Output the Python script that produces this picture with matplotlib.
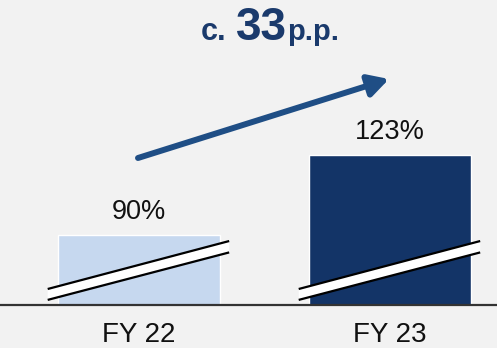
import matplotlib.pyplot as plt
import numpy as np
from matplotlib.patches import Polygon

plt.rcParams['font.family'] = ['Liberation Sans', 'DejaVu Sans']

# data
years = ['FY 22', 'FY 23']
ratios = [90, 123]
labels = ['90%', '123%']
bar_colors = ['#C6D8EF', '#133467']
change = '33'

bg = '#F2F2F2'
fig = plt.figure(figsize=(4.97, 3.48), dpi=100, facecolor=bg)
ax = fig.add_axes([0, 0.1236, 1, 0.8764], facecolor=bg)

x = np.arange(len(years))
ax.bar(x, ratios, width=0.645, color=bar_colors, edgecolor='white', linewidth=1)

# axis starts above zero, so mark the break on each bar
for xi in x:
    xl, xr = xi - 0.364, xi + 0.359
    top = [(xl, 67.7), (xr, 87.5)]
    bot = [(xl, 63.2), (xr, 82.8)]
    ax.add_patch(Polygon(top + bot[::-1], closed=True, facecolor='white',
                         edgecolor='none', zorder=3))
    ax.plot(*zip(*top), color='black', lw=1.6, zorder=4, solid_capstyle='butt')
    ax.plot(*zip(*bot), color='black', lw=1.6, zorder=4, solid_capstyle='butt')

for xi, v, t in zip(x, ratios, labels):
    ax.annotate(t, (xi, v), xytext=(0, 7), textcoords='offset points',
                ha='center', va='bottom', fontsize=19.5, color='#111111')

ax.set_xlim(-0.554, 1.426)
ax.set_ylim(61.1, 187)
ax.set_xticks(x)
ax.set_xticklabels(years, fontsize=20, color='#111111')
ax.tick_params(axis='x', length=0, pad=12)
ax.set_yticks([])
for s in ['top', 'left', 'right']:
    ax.spines[s].set_visible(False)
ax.spines['bottom'].set_color('#333333')
ax.spines['bottom'].set_linewidth(1.6)

# growth arrow and headline
ax.annotate('', xy=(389 / 497, 1 - 79 / 348), xytext=(138 / 497, 1 - 158 / 348),
            xycoords='figure fraction', textcoords='figure fraction',
            arrowprops=dict(arrowstyle='-|>,head_length=0.6,head_width=0.33',
                            mutation_scale=20, color='#1F4E85', lw=4.3,
                            shrinkA=0, shrinkB=0))

navy = '#1A3A6C'
yb = 1 - 39.5 / 348
fig.text(201 / 497, yb, 'c.', fontsize=22, fontweight='bold', color=navy, va='baseline')
fig.text(236 / 497, yb, change, fontsize=33, fontweight='bold', color=navy, va='baseline')
fig.text(287 / 497, yb, 'p.p.', fontsize=21, fontweight='bold', color=navy, va='baseline')

fig.savefig('out.png', dpi=100, facecolor=bg)
